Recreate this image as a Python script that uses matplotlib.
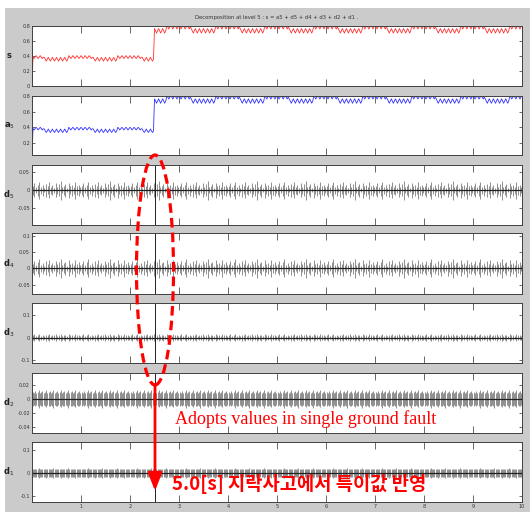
import numpy as np
import matplotlib
matplotlib.use("Agg")
import matplotlib.pyplot as plt
from matplotlib.patches import Rectangle, Ellipse, FancyArrowPatch

# ---------------- data ----------------
fault_time = 2.5
x_ticks = [1, 2, 3, 4, 5, 6, 7, 8, 9, 10]
samples_per_unit = 48          # 12 ripple cycles per time unit, 4 samples each

# one ripple cycle (4 samples) in the "high" and "low" half of each unit period
s_pre_high = [0.405, 0.388, 0.366, 0.384]
s_pre_low = [0.382, 0.356, 0.332, 0.356]
s_post_high = [0.800, 0.788, 0.760, 0.788]
s_post_low = [0.766, 0.736, 0.706, 0.736]
s_start = 0.0

a5_pre_high = [0.402, 0.388, 0.368, 0.384]
a5_pre_low = [0.380, 0.356, 0.336, 0.356]
a5_post_high = [0.798, 0.786, 0.762, 0.786]
a5_post_low = [0.764, 0.736, 0.708, 0.736]
a5_start = 0.05

# detail coefficients: spike amplitude pattern over one time unit
d5_env = [0.012, 0.020, 0.008, 0.016, 0.024, 0.010, 0.015, 0.006, 0.019, 0.011,
          0.022, 0.009, 0.014, 0.007, 0.020, 0.010, 0.017, 0.026, 0.008, 0.013,
          0.018, 0.006, 0.021, 0.011, 0.015, 0.009, 0.023, 0.012, 0.016, 0.008]
d4_env = [0.014, 0.022, 0.009, 0.018, 0.027, 0.011, 0.017, 0.008, 0.021, 0.013,
          0.025, 0.010, 0.016, 0.009, 0.023, 0.012, 0.019, 0.029, 0.010, 0.015,
          0.020, 0.008, 0.024, 0.013, 0.017, 0.010, 0.026, 0.014, 0.018, 0.009]
d3_env = [0.010, 0.014, 0.008, 0.012, 0.016, 0.009, 0.011, 0.007, 0.013, 0.010,
          0.015, 0.008, 0.012, 0.010, 0.014, 0.007, 0.012, 0.017, 0.009, 0.011,
          0.013, 0.008, 0.015, 0.010, 0.012, 0.007, 0.014, 0.010, 0.011, 0.009]
d2_env = [0.010, 0.009, 0.011, 0.009, 0.010, 0.013, 0.009, 0.010, 0.011, 0.009,
          0.010, 0.012, 0.009, 0.010, 0.011, 0.009, 0.010, 0.013, 0.009, 0.010,
          0.011, 0.009, 0.010, 0.012, 0.009, 0.010, 0.011, 0.009, 0.010, 0.013,
          0.009, 0.010, 0.011, 0.009, 0.010, 0.012, 0.009, 0.010, 0.011, 0.009]
d1_env = [0.018, 0.016, 0.019, 0.017, 0.018, 0.021, 0.016, 0.018, 0.019, 0.017,
          0.018, 0.020, 0.016, 0.018, 0.019, 0.017, 0.018, 0.021, 0.016, 0.018,
          0.019, 0.017, 0.018, 0.020, 0.016, 0.018, 0.019, 0.017, 0.018, 0.021,
          0.016, 0.018, 0.019, 0.017, 0.018, 0.020, 0.016, 0.018, 0.019, 0.017]
# fault transient at t = 2.5 (min, max)
d5_fault = (-0.097, 0.071)
d4_fault = (-0.079, 0.108)
d3_fault = (-0.112, 0.153)
d2_fault = (-0.049, 0.037)
d1_fault = (-0.126, 0.136)

d5_ticks = [-0.05, 0, 0.05]
d4_ticks = [-0.05, 0, 0.05, 0.1]
d3_ticks = [-0.1, 0, 0.1]
d2_ticks = [-0.04, -0.02, 0, 0.02]
d1_ticks = [-0.1, 0, 0.1]
s_ticks = [0, 0.2, 0.4, 0.6, 0.8]
a5_ticks = [0.2, 0.4, 0.6, 0.8]

title = "Decomposition at level 5 : s = a5 + d5 + d4 + d3 + d2 + d1 ."
note_en = "Adopts values in single ground fault"
note_ko = "5.0[s] 지락사고에서 특이값 반영"


# ---------------- build series from the read patterns ----------------
def ripple(start, pre_hi, pre_lo, post_hi, post_lo):
    n = 10 * samples_per_unit + 1
    t = np.arange(n) / samples_per_unit
    v = np.empty(n)
    for k in range(n):
        j = k % samples_per_unit
        hi = j < 12 or j >= 36
        if t[k] < fault_time:
            cyc = pre_hi if hi else pre_lo
        else:
            cyc = post_hi if hi else post_lo
        v[k] = cyc[k % 4]
    v[0] = start
    return t, v


def details(env, fault):
    n = len(env)
    t = np.arange(10 * n) / n + 0.5 / n
    a = np.tile(np.array(env), 10)
    return t, a, fault


s_t, s_v = ripple(s_start, s_pre_high, s_pre_low, s_post_high, s_post_low)
a_t, a_v = ripple(a5_start, a5_pre_high, a5_pre_low, a5_post_high, a5_post_low)

# ---------------- figure ----------------
W, H = 530, 512
fig = plt.figure(figsize=(W / 100, H / 100), dpi=100)
fig.patch.set_facecolor("white")
fig.add_artist(Rectangle((5 / W, 0), 1 - 5 / W, 1 - 8 / H, transform=fig.transFigure,
                         facecolor="#cbcbcb", edgecolor="none", zorder=-10))

rows = [(26, 86), (96, 155), (165, 225), (233, 294), (303, 363), (373, 433), (442, 502)]
left_px, right_px = 32, 522
axes = []
for top, bot in rows:
    ax = fig.add_axes([left_px / W, 1 - bot / H, (right_px - left_px) / W, (bot - top) / H])
    axes.append(ax)

labels = ["s", "a$_5$", "d$_5$", "d$_4$", "d$_3$", "d$_2$", "d$_1$"]

# s
ax = axes[0]
ax.plot(s_t, s_v, color="#ff3030", lw=0.6)
ax.set_ylim(s_v.min(), s_v.max())
ax.set_yticks(s_ticks)
ax.set_yticklabels([f"{v:g}" for v in s_ticks])
# a5
ax = axes[1]
ax.plot(a_t, a_v, color="#3030ff", lw=0.6)
ax.set_ylim(a_v.min(), a_v.max())
ax.set_yticks(a5_ticks)
ax.set_yticklabels([f"{v:g}" for v in a5_ticks])

for ax, env, fault, ticks in zip(axes[2:],
                                 [d5_env, d4_env, d3_env, d2_env, d1_env],
                                 [d5_fault, d4_fault, d3_fault, d2_fault, d1_fault],
                                 [d5_ticks, d4_ticks, d3_ticks, d2_ticks, d1_ticks]):
    t, a, f = details(env, fault)
    ax.vlines(t, -a, a, color="#3a3a3a", lw=0.4)
    ax.plot([0, 10], [0, 0], color="#202020", lw=0.9)
    ax.vlines([fault_time], [f[0]], [f[1]], color="#202020", lw=0.7)
    ax.set_ylim(f[0], f[1])
    ax.set_yticks(ticks)
    ax.set_yticklabels([f"{v:g}" for v in ticks])

for i, ax in enumerate(axes):
    ax.set_xlim(0, 10)
    ax.set_xticks(x_ticks)
    ax.set_xticklabels([str(v) for v in x_ticks])
    ax.set_facecolor("white")
    for sp in ax.spines.values():
        sp.set_color("#404040")
        sp.set_linewidth(0.7)
    ax.tick_params(direction="in", top=True, right=True, colors="#505050",
                   labelcolor="#333333", labelsize=3.5, pad=1.5, width=0.6)
    ax.tick_params(axis="x", length=5)
    ax.tick_params(axis="y", length=2)
    if i < len(axes) - 1:
        ax.tick_params(labelbottom=False)
    ax.text(-0.047, 0.5, labels[i], transform=ax.transAxes, ha="center", va="center",
            fontsize=6, fontweight="bold", color="#222222")

fig.text(277 / W, 1 - 17 / H, title, ha="center", va="center", fontsize=3.8, color="#333333")

# annotations
fig.add_artist(Ellipse((155 / W, 1 - 270 / H), 37 / W, 230 / H, transform=fig.transFigure,
                       fill=False, edgecolor="red", lw=2.3, linestyle=(0, (3, 1.6)), zorder=20))
fig.add_artist(FancyArrowPatch((155 / W, 1 - 385 / H), (155 / W, 1 - 491 / H),
                               transform=fig.transFigure,
                               arrowstyle="-|>,head_length=0.9,head_width=0.35",
                               mutation_scale=12, color="red", lw=2.0, shrinkA=0, shrinkB=0,
                               zorder=20))
fig.text(175 / W, 1 - 419 / H, note_en, ha="left", va="center", color="red",
         family="Liberation Serif", fontsize=13, zorder=21)
fig.text(172 / W, 1 - 484 / H, note_ko, ha="left", va="center", color="red",
         family=["Noto Sans CJK KR", "DejaVu Sans"], fontweight="bold", fontsize=13.5, zorder=21)

fig.savefig("out.png", dpi=100)
